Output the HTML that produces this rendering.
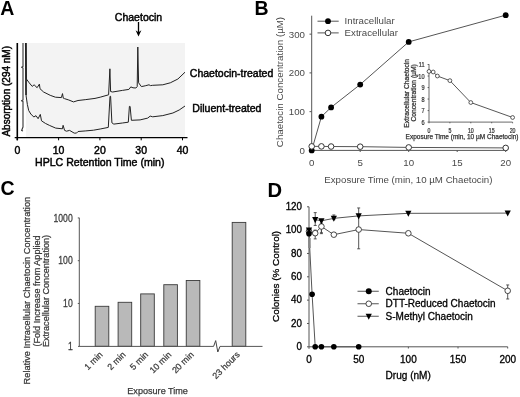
<!DOCTYPE html>
<html><head><meta charset="utf-8"><style>
html,body{margin:0;padding:0;background:#fff;width:520px;height:397px;overflow:hidden}
svg{display:block;font-family:"Liberation Sans",sans-serif;filter:grayscale(1)}
</style></head><body>
<svg width="520" height="397" viewBox="0 0 520 397">
<text x="0.3" y="14.9" font-size="19.5" fill="#000" text-anchor="start" font-weight="bold" >A</text>
<rect x="26" y="43" width="159" height="94.5" fill="#f3f3f3"/>
<polyline fill="none" stroke="#222" stroke-width="1" stroke-linejoin="round" points="25.8,43 26.3,78.9 29.2,82.8 32.2,86.4 34.1,84.8 37.1,87.7 39.4,84.1 40,88.7 43.6,92 50.2,95.3 55.4,97.2 61.4,97.6 62.5,93.6 63.3,98.2 64.4,98.6 68.8,100 73.5,101.9 78,100.5 85.8,99.6 95,98.4 100.2,97.2 108.6,94.8 109.9,68.8 110.6,91.5 112.6,92 122.4,90.4 128.9,89.4 130.8,86.9 133,87.8 135.9,88 137.2,86.6 137.8,47 138.6,82.8 141.4,86.6 145.2,85.8 149,84.8 150.5,85.6 152.7,85.3 162.8,84.8 170.3,82.8 177.9,79 185,72.2" />
<polyline fill="none" stroke="#222" stroke-width="1" stroke-linejoin="round" points="26.1,43 26.1,96 27.4,104.6 28.7,110.5 30.8,114 33.8,117 36,115.7 38.1,118.7 40.3,114.4 41.5,120.8 45.4,123.4 49.7,125.5 55.7,128.1 62.4,128.8 63.1,125.3 64.6,130.4 66.5,131.2 69.6,130.4 74.2,133.1 76.5,133.1 78,131.5 85.8,130.9 93.5,130.2 100.2,129 108.3,127.4 110,96.3 110.6,96.3 111.9,122.8 113.8,124.1 122.4,123 128.3,122.2 129.4,106.4 130.1,106.4 131.4,120.3 140.1,119.9 147.7,118.1 150.2,116.1 152.7,116.8 162.8,115.6 172.9,113 179.2,110 185,106" />
<polyline fill="none" stroke="#333" stroke-width="1.1" stroke-linejoin="round" points="23,43 23,66.5 21.6,67.3 23,68 23,100 21.5,100.8 23,101.5 23,127 21.6,130.5 23,131" />
<line x1="25.7" y1="43" x2="26" y2="95" stroke="#222" stroke-width="1.5" />
<line x1="17.3" y1="43" x2="17.3" y2="140.3" stroke="#000" stroke-width="1.6" />
<line x1="14.7" y1="137.6" x2="187.5" y2="137.6" stroke="#000" stroke-width="1.2" />
<line x1="17.3" y1="137.6" x2="17.3" y2="140.3" stroke="#000" stroke-width="1" />
<text x="17.3" y="154.1" font-size="10.5" fill="#000" text-anchor="middle" font-weight="normal" stroke="#000" stroke-width="0.45">0</text>
<line x1="58.6" y1="137.6" x2="58.6" y2="140.3" stroke="#000" stroke-width="1" />
<text x="58.6" y="154.1" font-size="10.5" fill="#000" text-anchor="middle" font-weight="normal" stroke="#000" stroke-width="0.45">10</text>
<line x1="99.9" y1="137.6" x2="99.9" y2="140.3" stroke="#000" stroke-width="1" />
<text x="99.9" y="154.1" font-size="10.5" fill="#000" text-anchor="middle" font-weight="normal" stroke="#000" stroke-width="0.45">20</text>
<line x1="141.2" y1="137.6" x2="141.2" y2="140.3" stroke="#000" stroke-width="1" />
<text x="141.2" y="154.1" font-size="10.5" fill="#000" text-anchor="middle" font-weight="normal" stroke="#000" stroke-width="0.45">30</text>
<line x1="182.5" y1="137.6" x2="182.5" y2="140.3" stroke="#000" stroke-width="1" />
<text x="182.5" y="154.1" font-size="10.5" fill="#000" text-anchor="middle" font-weight="normal" stroke="#000" stroke-width="0.45">40</text>
<text x="35" y="166" font-size="10.6" fill="#000" text-anchor="start" font-weight="normal" stroke="#000" stroke-width="0.45">HPLC Retention Time (min)</text>
<text x="9.7" y="91.3" font-size="10" fill="#000" text-anchor="middle" font-weight="normal" transform="rotate(-90 9.7 91.3)" stroke="#000" stroke-width="0.45">Absorption (294 nM)</text>
<text x="138.5" y="20.8" font-size="10.5" fill="#000" text-anchor="middle" font-weight="normal" stroke="#000" stroke-width="0.45">Chaetocin</text>
<line x1="138.5" y1="22" x2="138.5" y2="33" stroke="#000" stroke-width="1.3" />
<path d="M135.6,30.2 L138.5,32.2 L141.4,30.2 L138.5,36.6 Z" fill="#000"/>
<text x="189.8" y="76.8" font-size="10.5" fill="#000" text-anchor="start" font-weight="normal" stroke="#000" stroke-width="0.45">Chaetocin-treated</text>
<text x="192.3" y="111.8" font-size="10.55" fill="#000" text-anchor="start" font-weight="normal" stroke="#000" stroke-width="0.45">Diluent-treated</text>
<text x="254.6" y="15" font-size="19.5" fill="#000" text-anchor="start" font-weight="bold" >B</text>
<line x1="311.7" y1="15.7" x2="311.7" y2="150.4" stroke="#555" stroke-width="1" />
<line x1="311.7" y1="150.4" x2="505.6" y2="150.4" stroke="#555" stroke-width="1" />
<text x="305" y="153.8" font-size="9.7" fill="#4a4a4a" text-anchor="end" font-weight="normal" >0</text>
<line x1="309.5" y1="111.65" x2="311.7" y2="111.65" stroke="#555" stroke-width="1" />
<text x="305" y="115.05" font-size="9.7" fill="#4a4a4a" text-anchor="end" font-weight="normal" >100</text>
<line x1="309.5" y1="72.9" x2="311.7" y2="72.9" stroke="#555" stroke-width="1" />
<text x="305" y="76.3" font-size="9.7" fill="#4a4a4a" text-anchor="end" font-weight="normal" >200</text>
<line x1="309.5" y1="34.15" x2="311.7" y2="34.15" stroke="#555" stroke-width="1" />
<text x="305" y="37.55" font-size="9.7" fill="#4a4a4a" text-anchor="end" font-weight="normal" >300</text>
<text x="311.7" y="166.3" font-size="9.7" fill="#4a4a4a" text-anchor="middle" font-weight="normal" >0</text>
<line x1="360.2" y1="150.4" x2="360.2" y2="152" stroke="#555" stroke-width="1" />
<text x="360.2" y="166.3" font-size="9.7" fill="#4a4a4a" text-anchor="middle" font-weight="normal" >5</text>
<line x1="408.7" y1="150.4" x2="408.7" y2="152" stroke="#555" stroke-width="1" />
<text x="408.7" y="166.3" font-size="9.7" fill="#4a4a4a" text-anchor="middle" font-weight="normal" >10</text>
<line x1="457.2" y1="150.4" x2="457.2" y2="152" stroke="#555" stroke-width="1" />
<text x="457.2" y="166.3" font-size="9.7" fill="#4a4a4a" text-anchor="middle" font-weight="normal" >15</text>
<line x1="505.7" y1="150.4" x2="505.7" y2="152" stroke="#555" stroke-width="1" />
<text x="505.7" y="166.3" font-size="9.7" fill="#4a4a4a" text-anchor="middle" font-weight="normal" >20</text>
<text x="324.3" y="182.8" font-size="9.7" fill="#4a4a4a" text-anchor="start" font-weight="normal" >Exposure Time (min, 10 µM Chaetocin)</text>
<text x="282.8" y="82" font-size="9.75" fill="#4a4a4a" text-anchor="middle" font-weight="normal" transform="rotate(-90 282.8 82)" >Chaetocin Concentration (µM)</text>
<polyline fill="none" stroke="#555" stroke-width="1" stroke-linejoin="round" points="311.7,150.4 321.4,116.69 331.1,107.39 360.2,84.53 408.7,41.9 505.7,15.16" />
<polyline fill="none" stroke="#555" stroke-width="1" stroke-linejoin="round" points="311.7,146.37 321.4,146.39 331.1,146.53 360.2,146.68 408.7,147.42 505.7,147.92" />
<circle cx="311.7" cy="150.4" r="2.9" fill="#000" stroke="none" stroke-width="1"/>
<circle cx="321.4" cy="116.69" r="2.9" fill="#000" stroke="none" stroke-width="1"/>
<circle cx="331.1" cy="107.39" r="2.9" fill="#000" stroke="none" stroke-width="1"/>
<circle cx="360.2" cy="84.53" r="2.9" fill="#000" stroke="none" stroke-width="1"/>
<circle cx="408.7" cy="41.9" r="2.9" fill="#000" stroke="none" stroke-width="1"/>
<circle cx="505.7" cy="15.16" r="2.9" fill="#000" stroke="none" stroke-width="1"/>
<circle cx="311.7" cy="146.37" r="2.8" fill="#fff" stroke="#333" stroke-width="1"/>
<circle cx="321.4" cy="146.39" r="2.8" fill="#fff" stroke="#333" stroke-width="1"/>
<circle cx="331.1" cy="146.53" r="2.8" fill="#fff" stroke="#333" stroke-width="1"/>
<circle cx="360.2" cy="146.68" r="2.8" fill="#fff" stroke="#333" stroke-width="1"/>
<circle cx="408.7" cy="147.42" r="2.8" fill="#fff" stroke="#333" stroke-width="1"/>
<circle cx="505.7" cy="147.92" r="2.8" fill="#fff" stroke="#333" stroke-width="1"/>
<line x1="317.5" y1="21.2" x2="338.7" y2="21.2" stroke="#555" stroke-width="1" />
<circle cx="328" cy="21.2" r="2.9" fill="#000" stroke="none" stroke-width="1"/>
<line x1="317.5" y1="32.9" x2="338.7" y2="32.9" stroke="#555" stroke-width="1" />
<circle cx="328" cy="32.9" r="2.8" fill="#fff" stroke="#333" stroke-width="1"/>
<text x="344.6" y="24.2" font-size="9.7" fill="#4a4a4a" text-anchor="start" font-weight="normal" >Intracellular</text>
<text x="344.6" y="36.2" font-size="9.7" fill="#4a4a4a" text-anchor="start" font-weight="normal" >Extracellular</text>
<line x1="429" y1="64.2" x2="429" y2="122.1" stroke="#444" stroke-width="0.8" />
<line x1="429" y1="122.1" x2="512.5" y2="122.1" stroke="#444" stroke-width="0.8" />
<line x1="427.6" y1="122.1" x2="429" y2="122.1" stroke="#444" stroke-width="0.8" />
<text transform="translate(424.6 124.8) scale(0.72 1)" font-size="7.8" fill="#333" text-anchor="end" stroke="#333" stroke-width="0.25">6</text>
<line x1="427.6" y1="110.58" x2="429" y2="110.58" stroke="#444" stroke-width="0.8" />
<text transform="translate(424.6 113.28) scale(0.72 1)" font-size="7.8" fill="#333" text-anchor="end" stroke="#333" stroke-width="0.25">7</text>
<line x1="427.6" y1="99.06" x2="429" y2="99.06" stroke="#444" stroke-width="0.8" />
<text transform="translate(424.6 101.76) scale(0.72 1)" font-size="7.8" fill="#333" text-anchor="end" stroke="#333" stroke-width="0.25">8</text>
<line x1="427.6" y1="87.54" x2="429" y2="87.54" stroke="#444" stroke-width="0.8" />
<text transform="translate(424.6 90.24) scale(0.72 1)" font-size="7.8" fill="#333" text-anchor="end" stroke="#333" stroke-width="0.25">9</text>
<line x1="427.6" y1="76.02" x2="429" y2="76.02" stroke="#444" stroke-width="0.8" />
<text transform="translate(424.6 78.72) scale(0.72 1)" font-size="7.8" fill="#333" text-anchor="end" stroke="#333" stroke-width="0.25">10</text>
<line x1="427.6" y1="64.5" x2="429" y2="64.5" stroke="#444" stroke-width="0.8" />
<text transform="translate(424.6 67.2) scale(0.72 1)" font-size="7.8" fill="#333" text-anchor="end" stroke="#333" stroke-width="0.25">11</text>
<line x1="429" y1="122.1" x2="429" y2="123.3" stroke="#444" stroke-width="0.8" />
<text transform="translate(429 132.7) scale(0.72 1)" font-size="7.3" fill="#333" text-anchor="middle" stroke="#333" stroke-width="0.25">0</text>
<line x1="449.9" y1="122.1" x2="449.9" y2="123.3" stroke="#444" stroke-width="0.8" />
<text transform="translate(449.9 132.7) scale(0.72 1)" font-size="7.3" fill="#333" text-anchor="middle" stroke="#333" stroke-width="0.25">5</text>
<line x1="470.8" y1="122.1" x2="470.8" y2="123.3" stroke="#444" stroke-width="0.8" />
<text transform="translate(470.8 132.7) scale(0.72 1)" font-size="7.3" fill="#333" text-anchor="middle" stroke="#333" stroke-width="0.25">10</text>
<line x1="491.7" y1="122.1" x2="491.7" y2="123.3" stroke="#444" stroke-width="0.8" />
<text transform="translate(491.7 132.7) scale(0.72 1)" font-size="7.3" fill="#333" text-anchor="middle" stroke="#333" stroke-width="0.25">15</text>
<line x1="512.6" y1="122.1" x2="512.6" y2="123.3" stroke="#444" stroke-width="0.8" />
<text transform="translate(512.6 132.7) scale(0.72 1)" font-size="7.3" fill="#333" text-anchor="middle" stroke="#333" stroke-width="0.25">20</text>
<text x="462" y="139.3" font-size="6.5" fill="#333" text-anchor="middle" font-weight="normal" stroke="#333" stroke-width="0.25">Exposure Time (min, 10 µM Chaetocin)</text>
<text x="408.6" y="93.3" font-size="6.7" fill="#333" text-anchor="middle" font-weight="normal" transform="rotate(-90 408.6 93.3)" stroke="#333" stroke-width="0.25">Extracellular Chaetocin</text>
<text x="416.4" y="92.9" font-size="6.7" fill="#333" text-anchor="middle" font-weight="normal" transform="rotate(-90 416.4 92.9)" stroke="#333" stroke-width="0.25">Concentration (µM)</text>
<polyline fill="none" stroke="#444" stroke-width="0.9" stroke-linejoin="round" points="429,71.41 433.18,71.99 437.36,76.02 449.9,80.63 470.8,102.52 512.6,117.49" />
<circle cx="429" cy="71.41" r="1.9" fill="#fff" stroke="#333" stroke-width="0.8"/>
<circle cx="433.18" cy="71.99" r="1.9" fill="#fff" stroke="#333" stroke-width="0.8"/>
<circle cx="437.36" cy="76.02" r="1.9" fill="#fff" stroke="#333" stroke-width="0.8"/>
<circle cx="449.9" cy="80.63" r="1.9" fill="#fff" stroke="#333" stroke-width="0.8"/>
<circle cx="470.8" cy="102.52" r="1.9" fill="#fff" stroke="#333" stroke-width="0.8"/>
<circle cx="512.6" cy="117.49" r="1.9" fill="#fff" stroke="#333" stroke-width="0.8"/>
<text x="0.6" y="195.2" font-size="19.5" fill="#000" text-anchor="start" font-weight="bold" >C</text>
<line x1="79.3" y1="217.8" x2="79.3" y2="346.3" stroke="#555" stroke-width="1" />
<line x1="77.8" y1="217.95" x2="79.3" y2="217.95" stroke="#555" stroke-width="1" />
<text transform="translate(72.7 221.55) scale(0.9 1.1)" font-size="9.6" fill="#3a3a3a" text-anchor="end" stroke="#3a3a3a" stroke-width="0.25">1000</text>
<line x1="77.8" y1="260.7" x2="79.3" y2="260.7" stroke="#555" stroke-width="1" />
<text transform="translate(72.7 264.3) scale(0.9 1.1)" font-size="9.6" fill="#3a3a3a" text-anchor="end" stroke="#3a3a3a" stroke-width="0.25">100</text>
<line x1="77.8" y1="303.45" x2="79.3" y2="303.45" stroke="#555" stroke-width="1" />
<text transform="translate(72.7 307.05) scale(0.9 1.1)" font-size="9.6" fill="#3a3a3a" text-anchor="end" stroke="#3a3a3a" stroke-width="0.25">10</text>
<text transform="translate(72.7 349.8) scale(0.9 1.1)" font-size="9.6" fill="#3a3a3a" text-anchor="end" stroke="#3a3a3a" stroke-width="0.25">1</text>
<rect x="95.2" y="306.3" width="13.6" height="40" fill="#b9b9b9" stroke="#3a3a3a" stroke-width="0.9"/>
<text x="103.3" y="355.2" font-size="8.8" fill="#3a3a3a" text-anchor="end" font-weight="normal" transform="rotate(-45 103.3 355.2)" stroke="#3a3a3a" stroke-width="0.25">1 min</text>
<rect x="118.1" y="302.3" width="13.6" height="44" fill="#b9b9b9" stroke="#3a3a3a" stroke-width="0.9"/>
<text x="126.2" y="355.2" font-size="8.8" fill="#3a3a3a" text-anchor="end" font-weight="normal" transform="rotate(-45 126.2 355.2)" stroke="#3a3a3a" stroke-width="0.25">2 min</text>
<rect x="140.7" y="293.9" width="13.6" height="52.4" fill="#b9b9b9" stroke="#3a3a3a" stroke-width="0.9"/>
<text x="148.8" y="355.2" font-size="8.8" fill="#3a3a3a" text-anchor="end" font-weight="normal" transform="rotate(-45 148.8 355.2)" stroke="#3a3a3a" stroke-width="0.25">5 min</text>
<rect x="163.8" y="284.7" width="13.6" height="61.6" fill="#b9b9b9" stroke="#3a3a3a" stroke-width="0.9"/>
<text x="171.9" y="355.2" font-size="8.8" fill="#3a3a3a" text-anchor="end" font-weight="normal" transform="rotate(-45 171.9 355.2)" stroke="#3a3a3a" stroke-width="0.25">10 min</text>
<rect x="186.25" y="280.5" width="13.6" height="65.8" fill="#b9b9b9" stroke="#3a3a3a" stroke-width="0.9"/>
<text x="194.35" y="355.2" font-size="8.8" fill="#3a3a3a" text-anchor="end" font-weight="normal" transform="rotate(-45 194.35 355.2)" stroke="#3a3a3a" stroke-width="0.25">20 min</text>
<rect x="232.2" y="222.4" width="13.6" height="123.9" fill="#b9b9b9" stroke="#3a3a3a" stroke-width="0.9"/>
<text x="240.3" y="355.2" font-size="8.8" fill="#3a3a3a" text-anchor="end" font-weight="normal" transform="rotate(-45 240.3 355.2)" stroke="#3a3a3a" stroke-width="0.25">23 hours</text>
<line x1="78" y1="346.4" x2="213.6" y2="346.4" stroke="#555" stroke-width="1" />
<line x1="220" y1="346.4" x2="262.5" y2="346.4" stroke="#555" stroke-width="1" />
<polyline fill="none" stroke="#444" stroke-width="1" stroke-linejoin="round" points="213.6,346.4 215.7,340.6 217.8,352 220,346.4" />
<text x="157.6" y="394.3" font-size="9.1" fill="#3a3a3a" text-anchor="middle" font-weight="normal" stroke="#3a3a3a" stroke-width="0.25">Exposure Time</text>
<text x="30.5" y="290.6" font-size="9.22" fill="#3a3a3a" text-anchor="middle" font-weight="normal" transform="rotate(-90 30.5 290.6)" stroke="#3a3a3a" stroke-width="0.25">Relative Intracellular Chaetocin Concentration</text>
<text x="39.8" y="291" font-size="9.1" fill="#3a3a3a" text-anchor="middle" font-weight="normal" transform="rotate(-90 39.8 291)" stroke="#3a3a3a" stroke-width="0.25">(Fold Increase from Applied</text>
<text x="48.6" y="291" font-size="9.1" fill="#3a3a3a" text-anchor="middle" font-weight="normal" transform="rotate(-90 48.6 291)" stroke="#3a3a3a" stroke-width="0.25">Extracellular Concentration)</text>
<text x="267.4" y="196.8" font-size="20.2" fill="#000" text-anchor="start" font-weight="bold" >D</text>
<line x1="309" y1="206.8" x2="309" y2="348.8" stroke="#555" stroke-width="1" />
<line x1="307" y1="346.8" x2="507.7" y2="346.8" stroke="#555" stroke-width="1" />
<text transform="translate(302 350) scale(1 1.07)" font-size="9.8" fill="#000" text-anchor="end" stroke="#000" stroke-width="0.3">0</text>
<line x1="307" y1="323.47" x2="309" y2="323.47" stroke="#555" stroke-width="1" />
<text transform="translate(302 326.67) scale(1 1.07)" font-size="9.8" fill="#000" text-anchor="end" stroke="#000" stroke-width="0.3">20</text>
<line x1="307" y1="300.13" x2="309" y2="300.13" stroke="#555" stroke-width="1" />
<text transform="translate(302 303.33) scale(1 1.07)" font-size="9.8" fill="#000" text-anchor="end" stroke="#000" stroke-width="0.3">40</text>
<line x1="307" y1="276.8" x2="309" y2="276.8" stroke="#555" stroke-width="1" />
<text transform="translate(302 280) scale(1 1.07)" font-size="9.8" fill="#000" text-anchor="end" stroke="#000" stroke-width="0.3">60</text>
<line x1="307" y1="253.46" x2="309" y2="253.46" stroke="#555" stroke-width="1" />
<text transform="translate(302 256.66) scale(1 1.07)" font-size="9.8" fill="#000" text-anchor="end" stroke="#000" stroke-width="0.3">80</text>
<line x1="307" y1="230.13" x2="309" y2="230.13" stroke="#555" stroke-width="1" />
<text transform="translate(302 233.33) scale(1 1.07)" font-size="9.8" fill="#000" text-anchor="end" stroke="#000" stroke-width="0.3">100</text>
<line x1="307" y1="206.8" x2="309" y2="206.8" stroke="#555" stroke-width="1" />
<text transform="translate(302 210) scale(1 1.07)" font-size="9.8" fill="#000" text-anchor="end" stroke="#000" stroke-width="0.3">120</text>
<text transform="translate(309 363.1) scale(1.02 1.13)" font-size="9.8" fill="#000" text-anchor="middle" stroke="#000" stroke-width="0.3">0</text>
<line x1="358.68" y1="346.8" x2="358.68" y2="348.5" stroke="#555" stroke-width="1" />
<text transform="translate(358.68 363.1) scale(1.02 1.13)" font-size="9.8" fill="#000" text-anchor="middle" stroke="#000" stroke-width="0.3">50</text>
<line x1="408.35" y1="346.8" x2="408.35" y2="348.5" stroke="#555" stroke-width="1" />
<text transform="translate(408.35 363.1) scale(1.02 1.13)" font-size="9.8" fill="#000" text-anchor="middle" stroke="#000" stroke-width="0.3">100</text>
<line x1="458.02" y1="346.8" x2="458.02" y2="348.5" stroke="#555" stroke-width="1" />
<text transform="translate(458.02 363.1) scale(1.02 1.13)" font-size="9.8" fill="#000" text-anchor="middle" stroke="#000" stroke-width="0.3">150</text>
<line x1="507.7" y1="346.8" x2="507.7" y2="348.5" stroke="#555" stroke-width="1" />
<text transform="translate(507.7 363.1) scale(1.02 1.13)" font-size="9.8" fill="#000" text-anchor="middle" stroke="#000" stroke-width="0.3">200</text>
<text x="408.2" y="378.7" font-size="10.05" fill="#000" text-anchor="middle" font-weight="normal" stroke="#000" stroke-width="0.3">Drug (nM)</text>
<text x="279.3" y="276.4" font-size="9.9" fill="#000" text-anchor="middle" font-weight="normal" transform="rotate(-90 279.3 276.4)" stroke="#000" stroke-width="0.3">Colonies (% Control)</text>
<polyline fill="none" stroke="#555" stroke-width="1" stroke-linejoin="round" points="315.21,219.63 321.42,220.8 333.84,218.35 358.68,215.9 408.35,213.33 507.7,213.1" />
<polyline fill="none" stroke="#555" stroke-width="1" stroke-linejoin="round" points="309,231.3 315.21,233.16 321.42,226.51 333.84,234.68 358.68,229.55 408.35,233.28 507.7,290.8" />
<polyline fill="none" stroke="#555" stroke-width="1" stroke-linejoin="round" points="309,233.63 312.1,294.3 315.21,346.8 321.42,346.8 333.84,346.8 358.68,346.8" />
<line x1="315.21" y1="225.46" x2="315.21" y2="212.63" stroke="#444" stroke-width="0.9" />
<line x1="313.71" y1="225.46" x2="316.71" y2="225.46" stroke="#444" stroke-width="0.9" />
<line x1="313.71" y1="212.63" x2="316.71" y2="212.63" stroke="#444" stroke-width="0.9" />
<line x1="321.42" y1="233.63" x2="321.42" y2="220.8" stroke="#444" stroke-width="0.9" />
<line x1="319.92" y1="233.63" x2="322.92" y2="233.63" stroke="#444" stroke-width="0.9" />
<line x1="319.92" y1="220.8" x2="322.92" y2="220.8" stroke="#444" stroke-width="0.9" />
<line x1="358.68" y1="248.8" x2="358.68" y2="216.13" stroke="#444" stroke-width="0.9" />
<line x1="357.18" y1="248.8" x2="360.18" y2="248.8" stroke="#444" stroke-width="0.9" />
<line x1="357.18" y1="216.13" x2="360.18" y2="216.13" stroke="#444" stroke-width="0.9" />
<line x1="507.7" y1="298.97" x2="507.7" y2="284.96" stroke="#444" stroke-width="0.9" />
<line x1="506.2" y1="298.97" x2="509.2" y2="298.97" stroke="#444" stroke-width="0.9" />
<line x1="506.2" y1="284.96" x2="509.2" y2="284.96" stroke="#444" stroke-width="0.9" />
<line x1="333.84" y1="219.63" x2="333.84" y2="214.96" stroke="#444" stroke-width="0.9" />
<line x1="332.34" y1="219.63" x2="335.34" y2="219.63" stroke="#444" stroke-width="0.9" />
<line x1="332.34" y1="214.96" x2="335.34" y2="214.96" stroke="#444" stroke-width="0.9" />
<line x1="358.68" y1="216.13" x2="358.68" y2="207.96" stroke="#444" stroke-width="0.9" />
<line x1="357.18" y1="216.13" x2="360.18" y2="216.13" stroke="#444" stroke-width="0.9" />
<line x1="357.18" y1="207.96" x2="360.18" y2="207.96" stroke="#444" stroke-width="0.9" />
<line x1="315.21" y1="238.88" x2="315.21" y2="230.13" stroke="#444" stroke-width="0.9" />
<line x1="313.71" y1="238.88" x2="316.71" y2="238.88" stroke="#444" stroke-width="0.9" />
<line x1="313.71" y1="230.13" x2="316.71" y2="230.13" stroke="#444" stroke-width="0.9" />
<line x1="321.42" y1="232.7" x2="321.42" y2="223.13" stroke="#444" stroke-width="0.9" />
<line x1="319.92" y1="232.7" x2="322.92" y2="232.7" stroke="#444" stroke-width="0.9" />
<line x1="319.92" y1="223.13" x2="322.92" y2="223.13" stroke="#444" stroke-width="0.9" />
<rect x="308.1" y="238" width="2.6" height="10" fill="#888"/>
<circle cx="309" cy="231.3" r="2.8" fill="#fff" stroke="#333" stroke-width="0.9"/>
<circle cx="315.21" cy="233.16" r="2.8" fill="#fff" stroke="#333" stroke-width="0.9"/>
<circle cx="321.42" cy="226.51" r="2.8" fill="#fff" stroke="#333" stroke-width="0.9"/>
<circle cx="333.84" cy="234.68" r="2.8" fill="#fff" stroke="#333" stroke-width="0.9"/>
<circle cx="358.68" cy="229.55" r="2.8" fill="#fff" stroke="#333" stroke-width="0.9"/>
<circle cx="408.35" cy="233.28" r="2.8" fill="#fff" stroke="#333" stroke-width="0.9"/>
<circle cx="507.7" cy="290.8" r="2.8" fill="#fff" stroke="#333" stroke-width="0.9"/>
<path d="M305.9,227.53 L312.1,227.53 L309,233.63 Z" fill="#000"/>
<path d="M312.11,217.03 L318.31,217.03 L315.21,223.13 Z" fill="#000"/>
<path d="M318.32,218.2 L324.52,218.2 L321.42,224.3 Z" fill="#000"/>
<path d="M330.74,215.75 L336.94,215.75 L333.84,221.85 Z" fill="#000"/>
<path d="M355.57,213.3 L361.78,213.3 L358.68,219.4 Z" fill="#000"/>
<path d="M405.25,210.73 L411.45,210.73 L408.35,216.83 Z" fill="#000"/>
<path d="M504.6,210.5 L510.8,210.5 L507.7,216.6 Z" fill="#000"/>
<circle cx="309" cy="233.63" r="2.8" fill="#000" stroke="none" stroke-width="1"/>
<circle cx="312.1" cy="294.3" r="2.8" fill="#000" stroke="none" stroke-width="1"/>
<circle cx="315.21" cy="346.8" r="2.8" fill="#000" stroke="none" stroke-width="1"/>
<circle cx="321.42" cy="346.8" r="2.8" fill="#000" stroke="none" stroke-width="1"/>
<circle cx="333.84" cy="346.8" r="2.8" fill="#000" stroke="none" stroke-width="1"/>
<circle cx="358.68" cy="346.8" r="2.8" fill="#000" stroke="none" stroke-width="1"/>
<line x1="357.5" y1="291.25" x2="378.75" y2="291.25" stroke="#555" stroke-width="1" />
<circle cx="368.75" cy="291.25" r="3" fill="#000" stroke="none" stroke-width="1"/>
<text x="385.6" y="294.75" font-size="10" fill="#000" text-anchor="start" font-weight="normal" stroke="#000" stroke-width="0.3">Chaetocin</text>
<line x1="357.5" y1="303.75" x2="378.75" y2="303.75" stroke="#555" stroke-width="1" />
<circle cx="368.75" cy="303.75" r="2.8" fill="#fff" stroke="#333" stroke-width="0.9"/>
<text x="385.6" y="307.25" font-size="10" fill="#000" text-anchor="start" font-weight="normal" stroke="#000" stroke-width="0.3">DTT-Reduced Chaetocin</text>
<line x1="357.5" y1="316.25" x2="378.75" y2="316.25" stroke="#555" stroke-width="1" />
<path d="M365.65,313.65 L371.85,313.65 L368.75,319.75 Z" fill="#000"/>
<text x="385.6" y="319.75" font-size="10" fill="#000" text-anchor="start" font-weight="normal" stroke="#000" stroke-width="0.3">S-Methyl Chaetocin</text>
</svg>
</body></html>
